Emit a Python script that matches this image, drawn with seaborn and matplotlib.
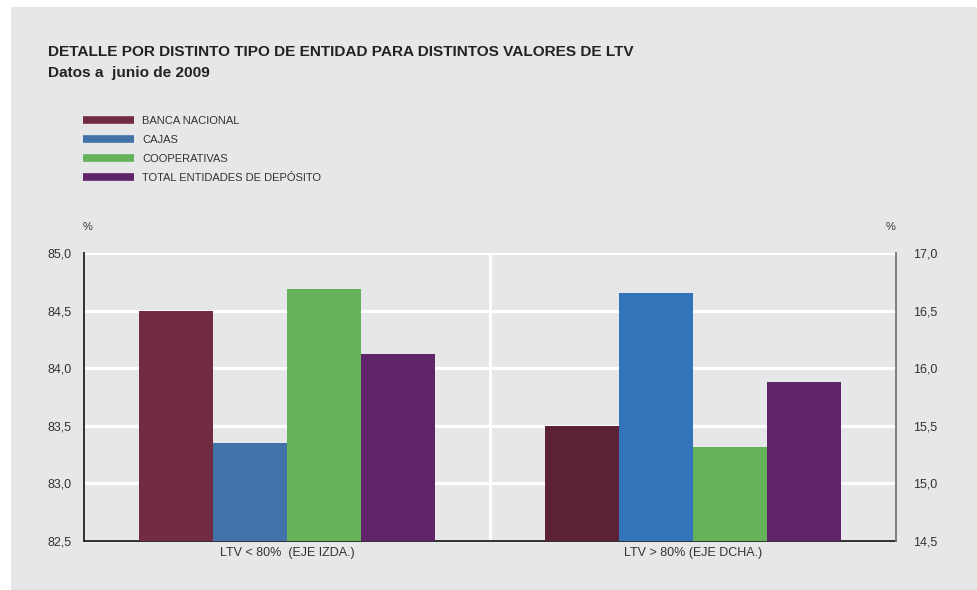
import matplotlib
matplotlib.use("Agg")
import matplotlib.pyplot as plt
from matplotlib.patches import Rectangle
from matplotlib.lines import Line2D
from matplotlib.ticker import FixedLocator, FuncFormatter
import seaborn as sns
import pandas as pd

# Data
groups = ["LTV < 80%  (EJE IZDA.)", "LTV > 80% (EJE DCHA.)"]
entities = ["BANCA NACIONAL", "CAJAS", "COOPERATIVAS", "TOTAL ENTIDADES DE DEPÓSITO"]
ltv_low = [84.5, 83.35, 84.69, 84.12]      # left axis
ltv_high = [15.5, 16.65, 15.32, 15.88]     # right axis
left_ticks = [82.5, 83.0, 83.5, 84.0, 84.5, 85.0]
right_ticks = [14.5, 15.0, 15.5, 16.0, 16.5, 17.0]

colors_low = ["#722c41", "#4173a8", "#66b25b", "#5f2469"]
colors_high = ["#5c2037", "#3373b9", "#66b25b", "#5f2469"]

df_low = pd.DataFrame({"grupo": groups[0], "entidad": entities, "valor": ltv_low})
df_high = pd.DataFrame({"grupo": groups[1], "entidad": entities, "valor": ltv_high})

sns.set_theme(style="white")
plt.rcParams["font.family"] = ["Liberation Sans", "DejaVu Sans"]

panel = "#e6e7e8"
text_c = "#333333"

fig = plt.figure(figsize=(9.78, 5.90), dpi=100)
fig.patch.set_facecolor("white")
fig.patches.append(Rectangle((11 / 978, 0), 1 - 11 / 978, 1 - 7 / 590,
                             transform=fig.transFigure, facecolor=panel,
                             edgecolor="none", zorder=-10))

ax = fig.add_axes([84 / 978, 49 / 590, 812 / 978, 288 / 590])
ax.set_facecolor(panel)
ax2 = ax.twinx()

sns.barplot(data=df_low, x="grupo", y="valor", hue="entidad", order=groups,
            hue_order=entities, palette=colors_low, width=0.73, ax=ax,
            legend=False, saturation=1, linewidth=0, zorder=3)
sns.barplot(data=df_high, x="grupo", y="valor", hue="entidad", order=groups,
            hue_order=entities, palette=colors_high, width=0.73, ax=ax2,
            legend=False, saturation=1, linewidth=0, zorder=3)

fmt = FuncFormatter(lambda v, p: f"{v:.1f}".replace(".", ","))
ax.set_xlim(-0.5, 1.5)
ax.set_ylim(82.5, 85.0)
ax2.set_ylim(14.5, 17.0)
ax.yaxis.set_major_locator(FixedLocator(left_ticks))
ax2.yaxis.set_major_locator(FixedLocator(right_ticks))
ax.yaxis.set_major_formatter(fmt)
ax2.yaxis.set_major_formatter(fmt)

# white grid: horizontal at each tick, vertical between the two groups
ax.set_axisbelow(True)
ax.grid(axis="y", color="white", linewidth=2.2, zorder=0)
ax.axvline(0.5, color="white", linewidth=2.2, zorder=0)

for a in (ax, ax2):
    a.set_xlabel("")
    a.set_ylabel("")
    a.spines["top"].set_visible(False)
    a.tick_params(axis="both", length=0, labelsize=9, labelcolor=text_c, pad=10)
ax.tick_params(axis="x", pad=4)
ax.spines["left"].set_color("#222222")
ax.spines["left"].set_linewidth(1.3)
ax.spines["bottom"].set_color("#222222")
ax.spines["bottom"].set_linewidth(1.3)
ax.spines["right"].set_visible(False)
ax2.spines["left"].set_visible(False)
ax2.spines["bottom"].set_visible(False)
ax2.spines["right"].set_color("#777777")
ax2.spines["right"].set_linewidth(1.3)
ax2.tick_params(axis="y", pad=12)
ax.tick_params(axis="y", pad=9)

# units above the axes
fig.text(88 / 978, 1 - 227 / 590, "%", fontsize=8, color=text_c, ha="center", va="center")
fig.text(891 / 978, 1 - 227 / 590, "%", fontsize=8, color=text_c, ha="center", va="center")

# titles
fig.text(48 / 978, 1 - 52 / 590, "DETALLE POR DISTINTO TIPO DE ENTIDAD PARA DISTINTOS VALORES DE LTV",
         fontsize=11.1, fontweight="bold", color="#222222", ha="left", va="center")
fig.text(48 / 978, 1 - 73 / 590, "Datos a  junio de 2009",
         fontsize=11.1, fontweight="bold", color="#222222", ha="left", va="center")

# legend
handles = [Line2D([0], [0], color=c, linewidth=5.5, solid_capstyle="butt") for c in colors_low]
fig.legend(handles, entities, loc="upper left", bbox_to_anchor=(83 / 978, 1 - 116 / 590),
           frameon=False, fontsize=8, labelcolor=text_c, handlelength=4.6,
           handletextpad=0.7, labelspacing=0.82, borderaxespad=0, borderpad=0)

fig.savefig("out.png", dpi=100, facecolor=fig.get_facecolor())
